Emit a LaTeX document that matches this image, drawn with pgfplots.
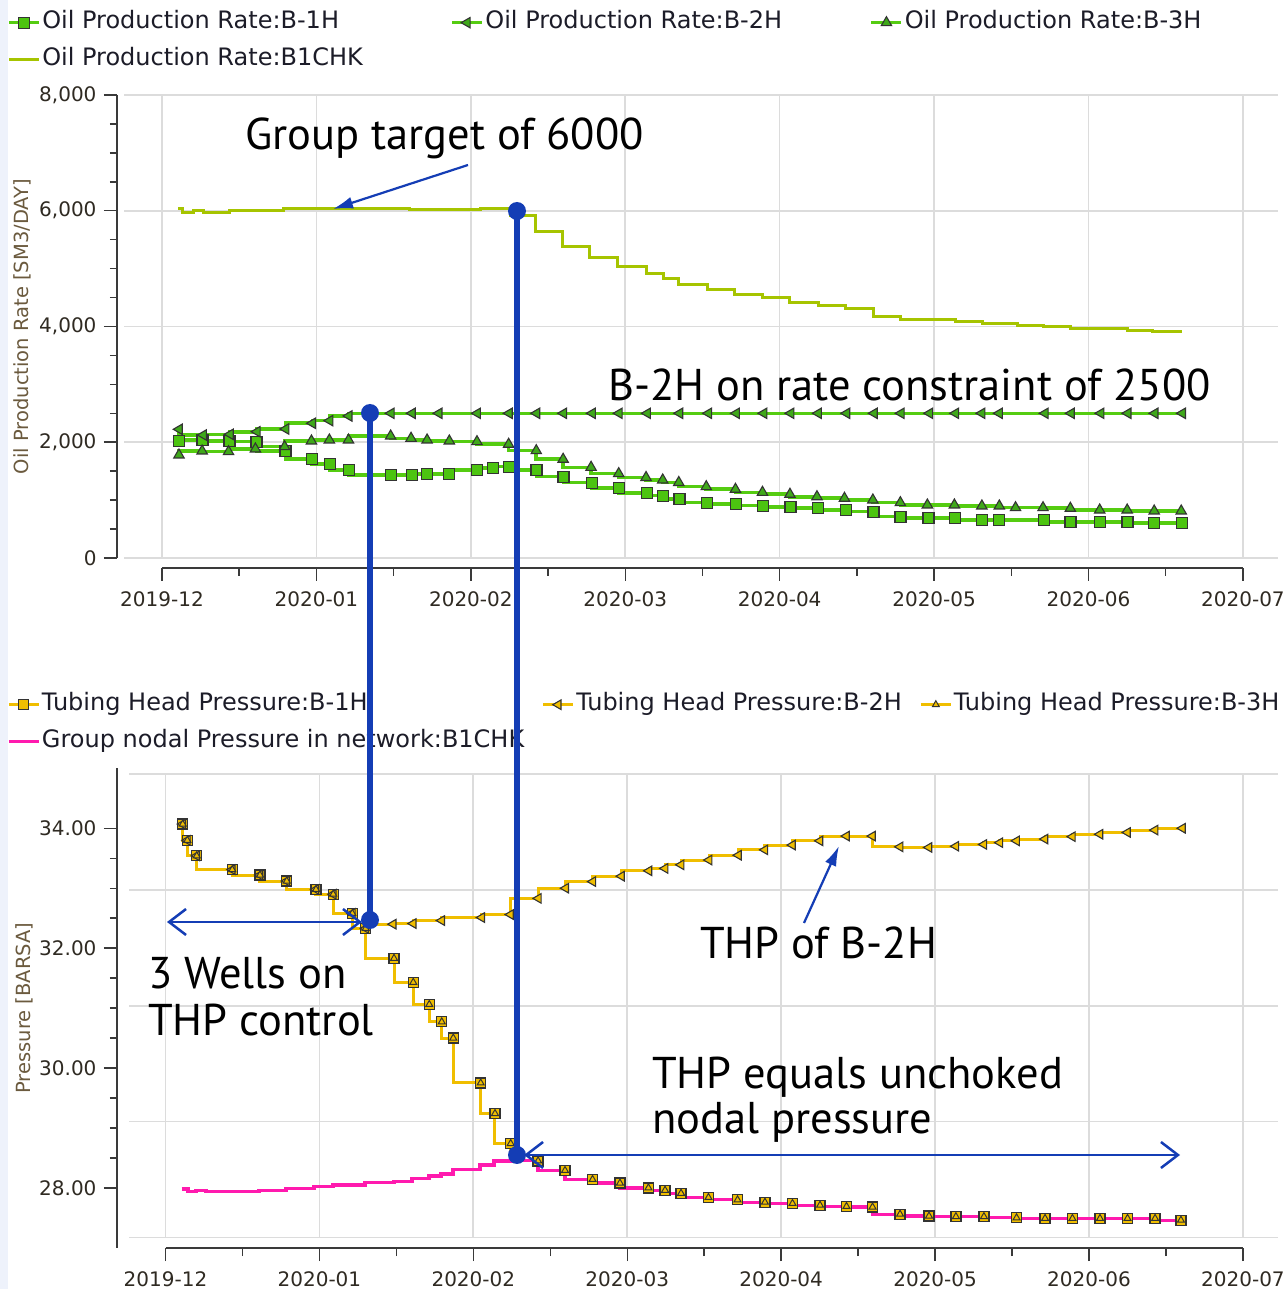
\documentclass[border=0pt]{standalone}
\usepackage{pgfplots}
\pgfplotsset{compat=1.18}
\usepackage{fontspec}
\setmainfont{DejaVu Sans}
\newfontfamily\annfont{PT Sans}
\usetikzlibrary{arrows.meta}

\definecolor{oilgreen}{HTML}{55CC11}
\definecolor{markgreen}{HTML}{4CC410}
\definecolor{trigreen}{HTML}{3FA81A}
\definecolor{chk}{HTML}{A6C400}
\definecolor{thp}{HTML}{F0BE00}
\definecolor{nodal}{HTML}{FF1AAE}
\definecolor{annblue}{HTML}{143DB5}
\definecolor{gridgray}{HTML}{DCDCDC}
\definecolor{axisdark}{HTML}{3A3A3A}
\definecolor{ticktext}{HTML}{2F2A22}
\definecolor{labeltext}{HTML}{6B5A3E}
\definecolor{legtext}{HTML}{1C1C28}
\definecolor{strip}{HTML}{EEF2FB}
\definecolor{markedge}{HTML}{333333}

\pgfplotsset{
  mainax/.style={scale only axis, anchor=south west,
    axis line style={draw=none}, tick style={draw=none},
    xticklabels={}, yticklabels={}, grid=major,
    major grid style={draw=gridgray, line width=1.6bp},
    scaled ticks=false,
    legend columns=3, legend cell align=left,
    legend image code/.code={\draw[mark repeat=2,mark phase=2,##1] plot coordinates {(0bp,0bp) (15bp,0bp) (30bp,0bp)};}},
  yax/.style={scale only axis, anchor=south west, width=10bp, xmin=0, xmax=1,
    axis x line=none, axis y line=left,
    y axis line style={-, draw=axisdark, line width=1.8bp},
    tick align=outside, major tick length=13bp, minor tick length=7bp,
    tick style={draw=axisdark, line width=1.5bp},
    minor tick style={draw=axisdark, line width=1.5bp},
    tick label style={font=\fontsize{20bp}{24bp}\selectfont, text=ticktext},
    yticklabel style={xshift=-4bp},
    /pgf/number format/assume math mode=true, scaled ticks=false,
    ylabel style={font=\fontsize{19.5bp}{24bp}\selectfont, text=labeltext, anchor=center}},
  xax/.style={scale only axis, anchor=south west, height=10bp, ymin=0, ymax=1, xmin=0, xmax=7,
    axis y line=none, axis x line=bottom,
    x axis line style={-, draw=axisdark, line width=1.8bp},
    tick align=outside, major tick length=13bp, minor tick length=8bp,
    tick style={draw=axisdark, line width=1.5bp},
    minor tick style={draw=axisdark, line width=1.5bp},
    xtick={0,...,7}, minor x tick num=1,
    xticklabels={2019-12,2020-01,2020-02,2020-03,2020-04,2020-05,2020-06,2020-07},
    tick label style={font=\fontsize{20bp}{24bp}\selectfont, text=ticktext},
    xticklabel style={yshift=-7bp}},
  oilline/.style={const plot mark right, draw=oilgreen, line width=3.6bp},
  thpline/.style={const plot mark right, draw=thp, line width=3bp},
  legsty/.style={draw=none, fill=none, anchor=north west,
    font=\fontsize{24bp}{28bp}\selectfont, text=legtext,
    nodes={inner sep=1.5bp, text height=17bp, text depth=5bp},
    row sep=12bp},
}

\begin{document}
\begin{tikzpicture}
\useasboundingbox (0bp,0bp) rectangle (1283bp,1289bp);
\fill[white] (0bp,0bp) rectangle (1283bp,1289bp);
\fill[strip] (0bp,0bp) rectangle (7.5bp,1289bp);

% ===== TOP: oil production rate =====
\begin{axis}[mainax, at={(124bp,731bp)}, width=1154bp, height=463bp,
  xmin=-0.246, xmax=7.228, ymin=0, ymax=8000,
  xtick={0,...,7}, ytick={0,2000,4000,6000,8000},
  legend style={legsty, at={(-0.104,1.1879)},
    /tikz/every even column/.append style={column sep=86bp}}]
\addplot[oilline, mark=square*, mark size=5.5bp, mark options={solid, fill=markgreen, draw=markedge, line width=1.3bp}] coordinates {
(0.110,2022) (0.263,2039) (0.437,2022) (0.612,2010) (0.800,1849) (0.972,1711) (1.086,1624) (1.210,1521) (1.483,1434) (1.618,1434) (1.717,1452) (1.861,1452) (2.042,1521) (2.146,1550) (2.247,1578) (2.425,1521) (2.600,1405) (2.783,1301) (2.958,1214) (3.142,1128) (3.246,1077) (3.351,1020) (3.530,956) (3.716,933) (3.893,904) (4.070,886) (4.247,859) (4.428,829) (4.608,800) (4.783,714) (4.965,686) (5.136,686) (5.310,657) (5.423,657) (5.711,657) (5.884,627) (6.077,627) (6.253,627) (6.425,600) (6.605,600)};
\addlegendentry{Oil Production Rate:B-1H}
\addplot[oilline, mark=triangle*, mark size=6bp, mark options={solid, rotate=90, fill=trigreen, draw=markedge, line width=1.1bp}] coordinates {
(0.112,2224) (0.268,2125) (0.442,2137) (0.616,2182) (0.802,2229) (0.975,2328) (1.087,2373) (1.211,2454) (1.484,2500) (1.621,2500) (1.794,2500) (2.043,2500) (2.249,2500) (2.427,2500) (2.601,2500) (2.787,2500) (2.961,2500) (3.144,2500) (3.353,2500) (3.540,2500) (3.720,2500) (3.898,2500) (4.073,2500) (4.251,2500) (4.435,2500) (4.613,2500) (4.787,2500) (4.972,2500) (5.140,2500) (5.310,2500) (5.423,2500) (5.720,2500) (5.889,2500) (6.081,2500) (6.256,2500) (6.431,2500) (6.609,2500)};
\addlegendentry{Oil Production Rate:B-2H}
\addplot[oilline, mark=triangle*, mark size=6bp, mark options={solid, fill=trigreen, draw=markedge, line width=1.1bp}] coordinates {
(0.110,1780) (0.260,1849) (0.431,1837) (0.605,1884) (0.794,1923) (0.968,2022) (1.084,2039) (1.208,2039) (1.481,2108) (1.613,2068) (1.717,2039) (1.861,2022) (2.040,2010) (2.245,1965) (2.424,1854) (2.598,1706) (2.779,1567) (2.958,1458) (3.135,1391) (3.243,1348) (3.347,1305) (3.525,1232) (3.714,1187) (3.889,1135) (4.067,1101) (4.242,1059) (4.420,1032) (4.604,1002) (4.782,956) (4.957,916) (5.132,916) (5.310,899) (5.423,899) (5.528,869) (5.706,869) (5.883,859) (6.073,829) (6.251,829) (6.426,812) (6.601,812)};
\addlegendentry{Oil Production Rate:B-3H}
\addplot[const plot mark right, draw=chk, line width=3bp] coordinates {
(0.104,6040) (0.136,6040) (0.201,5970) (0.266,6010) (0.440,5970) (0.784,6000) (1.606,6040) (2.060,6020) (2.254,6040) (2.416,5910) (2.597,5633) (2.772,5374) (2.953,5184) (3.141,5028) (3.245,4907) (3.348,4821) (3.530,4717) (3.711,4631) (3.892,4545) (4.067,4493) (4.249,4406) (4.424,4355) (4.605,4303) (4.780,4164) (5.136,4113) (5.311,4078) (5.538,4044) (5.706,4009) (5.881,3992) (6.250,3957) (6.418,3923) (6.606,3905)};
\addlegendentry{Oil Production Rate:B1CHK}
\end{axis}

\begin{axis}[yax, at={(117bp,731bp)}, height=463bp, ymin=0, ymax=8000,
  ytick={0,2000,4000,6000,8000}, minor y tick num=3,
  ylabel={Oil Production Rate [SM3/DAY]},
  ylabel style={at={(axis description cs:-9.5,0.5)}}]
\end{axis}

\begin{axis}[xax, at={(162bp,721bp)}, width=1081bp]
\end{axis}

% ===== BOTTOM: pressure =====
\begin{axis}[mainax, at={(129bp,51.4bp)}, width=1149bp, height=463.5bp,
  xmin=-0.237, xmax=7.229, ymin=27.170, ymax=34.904,
  xtick={0,...,7}, ytick={27.170,29.104,31.037,32.971,34.904},
  legend style={legsty, at={(-0.1088,1.1814)},
    /tikz/every even column/.append style={column sep=16bp}}]
\addplot[thpline, mark=square*, mark size=5bp, mark options={solid, fill=thp, draw=markedge, line width=1.3bp}] coordinates {
(0.112,34.07) (0.142,33.80) (0.203,33.54) (0.434,33.31) (0.614,33.22) (0.788,33.12) (0.978,32.98) (1.090,32.90) (1.214,32.58) (1.301,32.33) (1.485,31.83) (1.610,31.43) (1.714,31.06) (1.795,30.77) (1.870,30.50) (2.048,29.75) (2.141,29.24) (2.243,28.74) (2.421,28.45) (2.596,28.29) (2.775,28.14) (2.953,28.08) (3.138,28.00) (3.246,27.96) (3.350,27.91) (3.528,27.84) (3.717,27.80) (3.895,27.76) (4.074,27.74) (4.253,27.71) (4.425,27.69) (4.594,27.68) (4.773,27.56) (4.961,27.53) (5.136,27.52) (5.318,27.52) (5.530,27.50) (5.715,27.49) (5.893,27.49) (6.072,27.49) (6.251,27.49) (6.430,27.49) (6.598,27.46)};
\addlegendentry{Tubing Head Pressure:B-1H}
\addplot[thpline, mark=triangle*, mark size=5.5bp, mark options={solid, rotate=90, fill=thp, draw=markedge, line width=1.1bp}] coordinates {
(0.112,34.07) (0.142,33.80) (0.203,33.54) (0.434,33.31) (0.614,33.22) (0.788,33.12) (0.978,32.98) (1.090,32.90) (1.214,32.58) (1.301,32.33) (1.480,32.40) (1.610,32.41) (1.795,32.46) (2.055,32.51) (2.242,32.56) (2.423,32.83) (2.601,33.00) (2.777,33.11) (2.963,33.20) (3.142,33.29) (3.246,33.33) (3.350,33.39) (3.532,33.47) (3.723,33.55) (3.895,33.64) (4.074,33.72) (4.253,33.79) (4.425,33.87) (4.594,33.87) (4.773,33.69) (4.961,33.68) (5.136,33.70) (5.318,33.73) (5.422,33.76) (5.530,33.79) (5.715,33.82) (5.893,33.86) (6.072,33.90) (6.251,33.93) (6.430,33.97) (6.608,34.00)};
\addlegendentry{Tubing Head Pressure:B-2H}
\addplot[thpline, mark=triangle*, mark size=4bp, mark options={solid, fill=thp, draw=markedge, line width=1bp}] coordinates {
(0.112,34.07) (0.142,33.80) (0.203,33.54) (0.434,33.31) (0.614,33.22) (0.788,33.12) (0.978,32.98) (1.090,32.90) (1.214,32.58) (1.301,32.33) (1.485,31.83) (1.610,31.43) (1.714,31.06) (1.795,30.77) (1.870,30.50) (2.048,29.75) (2.141,29.24) (2.243,28.74) (2.421,28.45) (2.596,28.29) (2.775,28.14) (2.953,28.08) (3.138,28.00) (3.246,27.96) (3.350,27.91) (3.528,27.84) (3.717,27.80) (3.895,27.76) (4.074,27.74) (4.253,27.71) (4.425,27.69) (4.594,27.68) (4.773,27.56) (4.961,27.53) (5.136,27.52) (5.318,27.52) (5.530,27.50) (5.715,27.49) (5.893,27.49) (6.072,27.49) (6.251,27.49) (6.430,27.49) (6.598,27.46)};
\addlegendentry{Tubing Head Pressure:B-3H}
\addplot[const plot mark right, draw=nodal, line width=3.3bp] coordinates {
(0.105,27.98) (0.146,27.98) (0.198,27.94) (0.263,27.96) (0.608,27.94) (0.783,27.96) (0.965,27.99) (1.088,28.02) (1.296,28.05) (1.485,28.09) (1.602,28.11) (1.713,28.16) (1.790,28.20) (1.868,28.23) (2.044,28.31) (2.135,28.38) (2.245,28.45) (2.421,28.46) (2.596,28.29) (2.775,28.14) (2.953,28.08) (3.138,28.00) (3.246,27.96) (3.350,27.91) (3.528,27.84) (3.717,27.80) (3.895,27.76) (4.074,27.74) (4.253,27.71) (4.425,27.69) (4.594,27.68) (4.773,27.56) (4.961,27.53) (5.136,27.52) (5.318,27.52) (5.530,27.50) (5.715,27.49) (5.893,27.49) (6.072,27.49) (6.251,27.49) (6.430,27.49) (6.598,27.46)};
\addlegendentry{Group nodal Pressure in network:B1CHK}
\addplot[forget plot, only marks, mark=square*, mark size=5bp, mark options={solid, fill=thp, draw=markedge, line width=1.3bp}] coordinates {
(2.421,28.45) (2.596,28.29) (2.775,28.14) (2.953,28.08) (3.138,28.00) (3.246,27.96) (3.350,27.91) (3.528,27.84) (3.717,27.80) (3.895,27.76) (4.074,27.74) (4.253,27.71) (4.425,27.69) (4.594,27.68) (4.773,27.56) (4.961,27.53) (5.136,27.52) (5.318,27.52) (5.530,27.50) (5.715,27.49) (5.893,27.49) (6.072,27.49) (6.251,27.49) (6.430,27.49) (6.598,27.46)};
\addplot[forget plot, only marks, mark=triangle*, mark size=4bp, mark options={solid, fill=thp, draw=markedge, line width=1bp}] coordinates {
(2.421,28.45) (2.596,28.29) (2.775,28.14) (2.953,28.08) (3.138,28.00) (3.246,27.96) (3.350,27.91) (3.528,27.84) (3.717,27.80) (3.895,27.76) (4.074,27.74) (4.253,27.71) (4.425,27.69) (4.594,27.68) (4.773,27.56) (4.961,27.53) (5.136,27.52) (5.318,27.52) (5.530,27.50) (5.715,27.49) (5.893,27.49) (6.072,27.49) (6.251,27.49) (6.430,27.49) (6.598,27.46)};
\end{axis}

\begin{axis}[yax, at={(117bp,41.2bp)}, height=479.4bp, ymin=27, ymax=35,
  ytick={28,30,32,34}, minor y tick num=3,
  yticklabel style={/pgf/number format/.cd, fixed, fixed zerofill, precision=2},
  ylabel={Pressure [BARSA]},
  ylabel style={at={(axis description cs:-9.3,0.5)}}]
\end{axis}

\begin{axis}[xax, at={(165.5bp,41bp)}, width=1077.5bp]
\end{axis}

% ===== annotations =====
\begin{scope}[x=1bp, y=1bp, annblue]
\draw[line width=2.2bp, -{Latex[length=20bp,width=12bp]}] (468,1124) -- (333,1080);
\draw[line width=2.2bp, -{Latex[length=20bp,width=12bp]}] (804,366) -- (839,443);
\draw[line width=2.5bp, {Straight Barb[length=17bp,width=26bp]}-{Straight Barb[length=17bp,width=26bp]}] (167,367) -- (362,367);
\draw[line width=2.5bp, {Straight Barb[length=17bp,width=26bp]}-{Straight Barb[length=17bp,width=26bp]}] (524,134) -- (1180,134);
\draw[line width=6bp] (370,876) -- (370,369);
\draw[line width=6bp] (517,1078) -- (517,134);
\fill (370,876) circle (9bp);
\fill (370,369) circle (9bp);
\fill (517,1078) circle (9bp);
\fill (517,134) circle (9bp);
\end{scope}
\begin{scope}[x=1bp, y=1bp, every node/.style={anchor=base west, inner sep=0pt, font=\annfont\fontsize{44.5bp}{50bp}\selectfont, text=black}]
\node at (245,1139) {Group target of 6000};
\node at (608,888) {B-2H on rate constraint of 2500};
\node at (148,301) {3 Wells on};
\node at (148,254) {THP control};
\node at (700,331) {THP of B-2H};
\node at (652,201) {THP equals unchoked};
\node at (652,156) {nodal pressure};
\end{scope}
\end{tikzpicture}
\end{document}
